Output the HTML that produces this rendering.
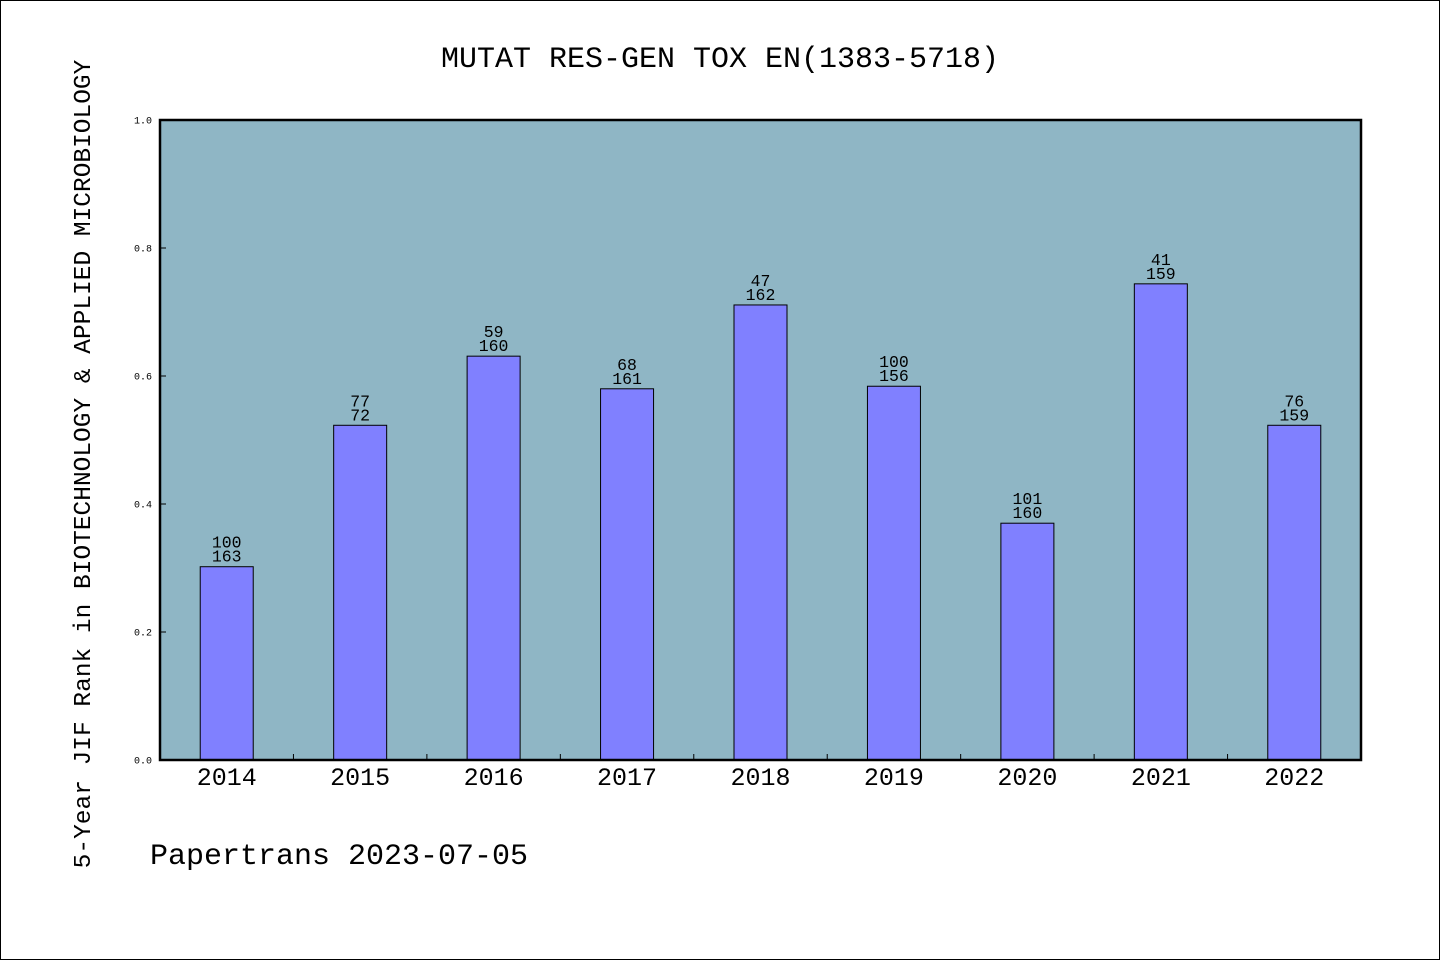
<!DOCTYPE html>
<html><head><meta charset="utf-8"><style>
html,body{margin:0;padding:0;background:#fff}
svg{display:block}
text{font-family:"Liberation Mono","WenQuanYi Zen Hei",monospace;fill:#000}
</style></head><body>
<svg id="chart" width="1440" height="960">
<rect x="0.5" y="0.5" width="1439" height="959" fill="#fff" stroke="#000"/>
<text x="720" y="67" font-size="30" text-anchor="middle">MUTAT RES-GEN TOX EN(1383-5718)</text>
<rect x="160" y="120" width="1201" height="640" fill="#8fb6c5"/>
<g id="marks"></g>
<rect x="160" y="120" width="1201" height="640" fill="none" stroke="#000" stroke-width="2.5"/>
<text transform="translate(90,464) rotate(-90)" font-size="24.5" text-anchor="middle">5-Year JIF Rank in BIOTECHNOLOGY &amp; APPLIED MICROBIOLOGY</text>
<text x="150" y="864" font-size="30">Papertrans 2023-07-05</text>
</svg>
<script>
const categories=["2014","2015","2016","2017","2018","2019","2020","2021","2022"];
const values=[0.302,0.523,0.631,0.580,0.711,0.584,0.370,0.744,0.523];
const ranks=["100","77","59","68","47","100","101","41","76"];
const totals=["163","72","160","161","162","156","160","159","159"];
const yTicks=["0.0","0.2","0.4","0.6","0.8","1.0"];
const NS="http://www.w3.org/2000/svg";
const X0=160,X1=1361,Y0=760,Y1=120;
const bw=(X1-X0)/categories.length;
const xs=i=>X0+(i+0.5)*bw;
const ys=v=>Y0-(v-0)/(1-0)*(Y0-Y1);
const g=document.getElementById('marks');
function mk(t,a){const e=document.createElementNS(NS,t);for(const k in a)e.setAttribute(k,a[k]);g.appendChild(e);return e;}
yTicks.forEach(t=>{
  const y=ys(parseFloat(t));
  const l=mk('line',{x1:X0,x2:X0+6,y1:y,y2:y,stroke:'#000'});
  
  
  const tx=mk('text',{x:152,y:y+3.5,'font-size':10,'text-anchor':'end'});
  tx.textContent=t;
  
  
});
categories.forEach((c,i)=>{
  if(i>0){const t=mk('line',{x1:X0+i*bw,x2:X0+i*bw,y1:Y0,y2:Y0-6,stroke:'#000'});
    
    }
  const x=xs(i),y=ys(values[i]);
  const r=mk('rect',{x:x-26.5,y:y,width:53,height:Y0-y,fill:'#8080ff',stroke:'#000','stroke-width':1});
  
  
  const a=mk('text',{x:x,y:y-19,'font-size':16.5,'text-anchor':'middle'});
  a.textContent=ranks[i];
  
  
  const b=mk('text',{x:x,y:y-5,'font-size':16.5,'text-anchor':'middle'});
  b.textContent=totals[i];
  
  
  const l=mk('text',{x:x,y:785,'font-size':25,'text-anchor':'middle'});
  l.textContent=c;
  
  
});
</script>
</body></html>
